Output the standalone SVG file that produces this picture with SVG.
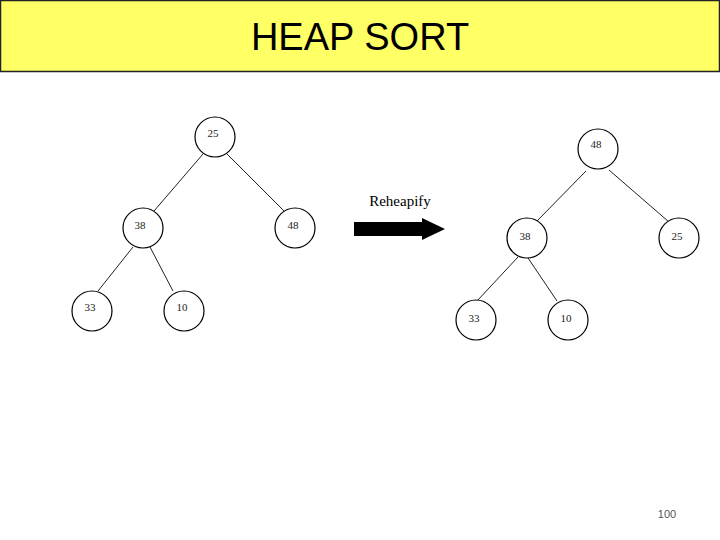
<svg xmlns="http://www.w3.org/2000/svg" width="720" height="540" viewBox="0 0 720 540">
<style>
.n{fill:#fff;stroke:#000;stroke-width:1.2}
.t{font-family:"Liberation Serif",serif;font-size:11px;fill:#222;text-anchor:middle}
.e{stroke:#222;stroke-width:1;fill:none}
</style>
<rect width="720" height="540" fill="#fff"/>
<g id="title"><rect x="0.5" y="0.5" width="719" height="71" fill="#ffff66" stroke="#222" stroke-width="1.5"/>
<text x="360" y="50" font-family="Liberation Sans,sans-serif" font-size="38" text-anchor="middle">HEAP SORT</text></g>
<g id="connectors">
<line class="e" x1="203" y1="154" x2="154" y2="211"/>
<line class="e" x1="227" y1="154" x2="284" y2="211"/>
<line class="e" x1="133" y1="247" x2="98" y2="291"/>
<line class="e" x1="150" y1="247" x2="173" y2="291"/>
<line class="e" x1="586" y1="171" x2="537" y2="221"/>
<line class="e" x1="609" y1="170" x2="669" y2="222"/>
<line class="e" x1="518" y1="257" x2="477" y2="301"/>
<line class="e" x1="528" y1="258" x2="557" y2="301"/>
</g>
<g id="n25"><circle class="n" cx="215" cy="137" r="20"/><text class="t" x="213" y="137">25</text></g>
<g id="n38"><circle class="n" cx="143" cy="228" r="20"/><text class="t" x="140" y="229">38</text></g>
<g id="n48"><circle class="n" cx="295" cy="228" r="20"/><text class="t" x="293" y="229">48</text></g>
<g id="n33"><circle class="n" cx="92" cy="311" r="20"/><text class="t" x="90" y="311">33</text></g>
<g id="n10"><circle class="n" cx="184" cy="311" r="20"/><text class="t" x="182" y="311">10</text></g>
<g id="arrow"><polygon points="354,222 422,222 422,218 445,229 422,240 422,236 354,236" fill="#000"/>
<text x="400" y="206" font-family="Liberation Serif,serif" font-size="15" text-anchor="middle">Reheapify</text></g>
<g id="r48"><circle class="n" cx="598" cy="149" r="20"/><text class="t" x="596" y="148">48</text></g>
<g id="r38"><circle class="n" cx="527" cy="238" r="20"/><text class="t" x="525" y="240">38</text></g>
<g id="r25"><circle class="n" cx="679" cy="238" r="20"/><text class="t" x="677" y="240">25</text></g>
<g id="r33"><circle class="n" cx="476" cy="320" r="20"/><text class="t" x="474" y="322">33</text></g>
<g id="r10"><circle class="n" cx="568" cy="320" r="20"/><text class="t" x="566" y="322">10</text></g>
<text x="667" y="518" font-family="Liberation Sans,sans-serif" font-size="11" fill="#555" text-anchor="middle">100</text>
</svg>
